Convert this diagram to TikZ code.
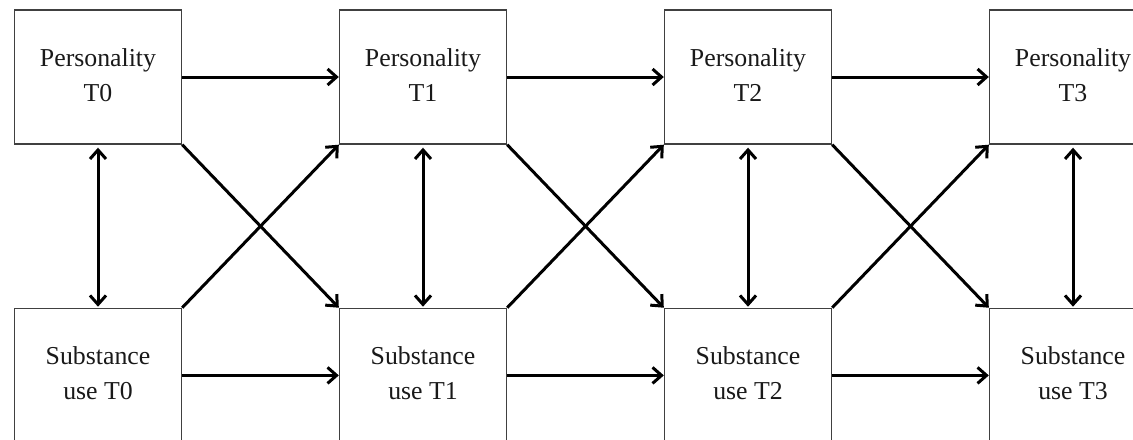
\documentclass[tikz,border=0pt]{standalone}
\usepackage{fontspec}
\setmainfont{Liberation Serif}
\usepackage{tikz}
\usetikzlibrary{positioning,arrows.meta}

\begin{document}
\begin{tikzpicture}[x=0.5pt, y=-0.5pt, node distance=81.5pt and 78.3pt,
              every node/.style = {shape=rectangle, draw=black!75, line width=0.7pt,
                minimum width=83.5pt, minimum height=67pt, inner sep=0pt,
                font=\fontsize{12.9}{17.5}\selectfont, text=black!90},
              link/.style = {line width=1.5pt, -{Straight Barb[length=4.5pt,width=8pt]}},
              both/.style = {link, {Straight Barb[length=4.5pt,width=8pt]}-{Straight Barb[length=4.5pt,width=8pt]}, shorten <=1.5pt, shorten >=0.5pt}]
  \useasboundingbox (0,0) rectangle (1133,439);
  \clip (0,0) rectangle (1133,439);
  % personality row
  \node (p0) at (98,77) {\begin{tabular}{c} Personality \\ T0 \end{tabular}};
  \node (p1) [right=of p0] {\begin{tabular}{c} Personality \\ T1 \end{tabular}};
  \node (p2) [right=of p1] {\begin{tabular}{c} Personality \\ T2 \end{tabular}};
  \node (p3) [right=of p2] {\begin{tabular}{c} Personality \\ T3 \end{tabular}};
  % substance use row
  \node (s0) [below=of p0] {\begin{tabular}{c} Substance \\ use T0 \end{tabular}};
  \node (s1) [below=of p1] {\begin{tabular}{c} Substance \\ use T1 \end{tabular}};
  \node (s2) [below=of p2] {\begin{tabular}{c} Substance \\ use T2 \end{tabular}};
  \node (s3) [below=of p3] {\begin{tabular}{c} Substance \\ use T3 \end{tabular}};
  % stability paths
  \draw[link] (p0) -- (p1);
  \draw[link] (p1) -- (p2);
  \draw[link] (p2) -- (p3);
  \draw[link] (s0) -- (s1);
  \draw[link] (s1) -- (s2);
  \draw[link] (s2) -- (s3);
  % cross-lagged paths
  \draw[link] (p0.south east) -- (s1.north west);
  \draw[link] (p1.south east) -- (s2.north west);
  \draw[link] (p2.south east) -- (s3.north west);
  \draw[link] (s0.north east) -- (p1.south west);
  \draw[link] (s1.north east) -- (p2.south west);
  \draw[link] (s2.north east) -- (p3.south west);
  % within-time correlations
  \draw[both] (p0) -- (s0);
  \draw[both] (p1) -- (s1);
  \draw[both] (p2) -- (s2);
  \draw[both] (p3) -- (s3);
\end{tikzpicture}
\end{document}
